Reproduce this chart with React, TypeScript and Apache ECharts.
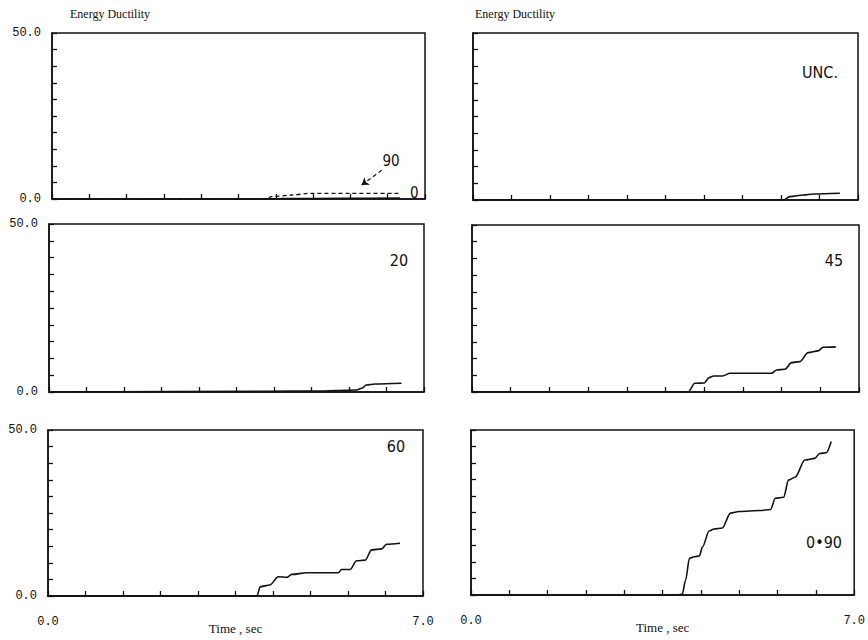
import React, { useEffect, useRef } from 'react';
import * as echarts from 'echarts';

// ---- data (time in s, energy ductility) ----
// Panel 1 (top-left): curves "0" (dashed) and "90" (solid)
const time0 = [0, 4.0, 4.12, 4.5, 4.84, 5.6, 6.53];
const val0 = [0, 0, 0.7, 1.2, 1.7, 1.7, 1.7];
const time90 = [0, 4.3, 5.5, 6.53];
const val90 = [0, 0.1, 0.2, 0.3];
// Panel 2 (top-right): UNC.
const timeUnc = [0, 5.64, 5.76, 6.01, 6.19, 6.67];
const valUnc = [0, 0, 1.0, 1.5, 1.8, 2.0];
// Panel 3: 20
const time20 = [0, 4.1, 5.0, 5.74, 5.85, 5.92, 6.09, 6.58];
const val20 = [0, 0.2, 0.3, 0.6, 1.2, 2.1, 2.4, 2.6];
// Panel 4: 45
const time45 = [0, 3.91, 4.03, 4.2, 4.29, 4.37, 4.53, 4.67, 4.91, 5.42, 5.51, 5.66, 5.78, 5.93, 6.08, 6.26, 6.35, 6.58];
const val45 = [0, 0, 2.6, 2.7, 4.3, 4.8, 4.8, 5.6, 5.6, 5.6, 6.6, 6.8, 8.8, 9.1, 11.8, 12.3, 13.4, 13.5];
// Panel 5: 60
const time60 = [0, 3.9, 3.96, 4.14, 4.3, 4.46, 4.55, 4.83, 5.42, 5.48, 5.64, 5.76, 5.92, 6.04, 6.23, 6.32, 6.57];
const val60 = [0, 0, 2.8, 3.3, 5.8, 5.6, 6.5, 7.0, 7.0, 8.0, 8.0, 10.6, 10.8, 13.9, 14.2, 15.6, 15.9];
// Panel 6: 0+90
const time090 = [0, 3.78, 3.86, 3.92, 3.99, 4.08, 4.17, 4.23, 4.35, 4.44, 4.59, 4.74, 4.9, 5.29, 5.47, 5.56, 5.71, 5.8, 5.92, 6.1, 6.28, 6.37, 6.49, 6.58];
const val090 = [0, 0, 0.3, 4.5, 11.1, 11.6, 11.8, 14.6, 19.4, 20.0, 20.3, 24.8, 25.3, 25.6, 25.9, 29.3, 29.6, 34.8, 35.7, 40.9, 41.4, 42.9, 43.1, 46.5];

const yTickLabels = { min: '0.0', max: '50.0' };
const xTickLabels = { min: '0.0', max: '7.0' };
const panelLabels = ['', 'UNC.', '20', '45', '60', '0\u202290'];
const yTitle = 'Energy Ductility';
const xTitle = 'Time , sec';

const pairs = (t: number[], v: number[]) => t.map((x, i) => [x, v[i]]);

const INK = '#111';
const SERIF = '"Liberation Serif", "Times New Roman", serif';
const MONO = '"Liberation Mono", "DejaVu Sans Mono", monospace';
const SANS = '"DejaVu Sans Condensed", "Liberation Sans Narrow", "DejaVu Sans", sans-serif';

const grids = [
  { left: 52, top: 33, width: 373, height: 166 },
  { left: 473, top: 33, width: 385, height: 167 },
  { left: 49, top: 224, width: 375, height: 168 },
  { left: 472, top: 225, width: 387, height: 167 },
  { left: 48, top: 430, width: 375, height: 166 },
  { left: 471, top: 430, width: 387, height: 165 },
];

export default function App() {
  const ref = useRef<HTMLDivElement>(null);
  useEffect(() => {
    const chart = echarts.init(ref.current!, null, { renderer: 'svg' });

    const xAxis = grids.map((_, i) => ({
      type: 'value',
      gridIndex: i,
      min: 0,
      max: 7,
      interval: 0.7,
      axisLine: { show: true, lineStyle: { color: INK, width: 1.5 } },
      axisTick: { show: true, inside: true, length: 5, lineStyle: { color: INK, width: 1.3 } },
      splitLine: { show: false },
      axisLabel: {
        show: i >= 4,
        margin: 20,
        fontFamily: MONO,
        fontSize: 12,
        color: INK,
        showMinLabel: true,
        showMaxLabel: true,
        hideOverlap: false,
        formatter: (v: number) => (Math.abs(v) < 1e-6 ? xTickLabels.min : Math.abs(v - 7) < 1e-6 ? xTickLabels.max : ''),
      },
      name: i >= 4 ? xTitle : '',
      nameLocation: 'middle',
      nameGap: 26,
      nameMoveOverlap: false,
      nameTextStyle: { fontFamily: SERIF, fontSize: 13, color: INK },
    }));

    const yAxis = grids.map((_, i) => ({
      type: 'value',
      gridIndex: i,
      min: 0,
      max: 50,
      interval: 5,
      axisLine: { show: true, lineStyle: { color: INK, width: 1.5 } },
      axisTick: { show: true, inside: true, length: 5, lineStyle: { color: INK, width: 1.3 } },
      splitLine: { show: false },
      axisLabel: {
        show: i % 2 === 0,
        margin: 11,
        fontFamily: MONO,
        fontSize: 12,
        color: INK,
        verticalAlign: 'middle',
        hideOverlap: false,
        formatter: (v: number) => (v === 0 ? yTickLabels.min : v === 50 ? yTickLabels.max : ''),
      },
    }));

    const lineBase = {
      type: 'line',
      showSymbol: false,
      symbol: 'none',
      smooth: 0.3,
      smoothMonotone: 'x',
      lineStyle: { color: INK, width: 1.6 },
      silent: true,
    };

    const series: any[] = [
      {
        ...lineBase,
        name: '0',
        xAxisIndex: 0,
        yAxisIndex: 0,
        data: pairs(time0, val0),
        lineStyle: { color: INK, width: 1.3, type: [4, 3] },
        endLabel: { show: true, formatter: '0', distance: 10, fontFamily: SANS, fontSize: 15, color: INK },
      },
      {
        ...lineBase,
        name: '90',
        xAxisIndex: 0,
        yAxisIndex: 0,
        data: pairs(time90, val90),
        markLine: {
          silent: true,
          symbol: ['none', 'arrow'],
          symbolSize: 7,
          label: { show: false },
          lineStyle: { color: INK, width: 1.2, type: [4, 3] },
          data: [[{ coord: [6.19, 8.7] }, { coord: [5.81, 4.2] }]],
        },
      },
      { ...lineBase, name: 'UNC.', xAxisIndex: 1, yAxisIndex: 1, data: pairs(timeUnc, valUnc) },
      { ...lineBase, name: '20', xAxisIndex: 2, yAxisIndex: 2, data: pairs(time20, val20) },
      { ...lineBase, name: '45', xAxisIndex: 3, yAxisIndex: 3, data: pairs(time45, val45) },
      { ...lineBase, name: '60', xAxisIndex: 4, yAxisIndex: 4, data: pairs(time60, val60) },
      { ...lineBase, name: '0-90', xAxisIndex: 5, yAxisIndex: 5, data: pairs(time090, val090) },
    ];

    const labelPos = [
      null,
      [820, 72],
      [399, 260],
      [834, 260],
      [396, 446],
      [824, 542],
    ];

    const graphic: any[] = [
      { type: 'text', left: 70, top: 8, style: { text: yTitle, font: `12px ${SERIF}`, fill: INK } },
      { type: 'text', left: 475, top: 8, style: { text: yTitle, font: `12px ${SERIF}`, fill: INK } },
      {
        type: 'text',
        x: 391,
        y: 161,
        style: { text: '90', font: `15px ${SANS}`, fill: INK, align: 'center', verticalAlign: 'middle' },
      },
    ];
    panelLabels.forEach((t, i) => {
      const p = labelPos[i];
      if (!t || !p) return;
      graphic.push({
        type: 'text',
        x: p[0],
        y: p[1],
        style: { text: t, font: `16px ${SANS}`, fill: INK, align: 'center', verticalAlign: 'middle' },
      });
    });

    chart.setOption({
      animation: false,
      backgroundColor: '#ffffff',
      grid: grids.map((g) => ({ ...g, show: true, borderColor: INK, borderWidth: 1.5, backgroundColor: 'transparent' })),
      xAxis,
      yAxis,
      series,
      graphic,
    });

    return () => chart.dispose();
  }, []);

  return (
    <div
      ref={ref}
      style={{ position: 'fixed', left: 0, top: 0, width: 868, height: 640, background: '#fff' }}
    />
  );
}
